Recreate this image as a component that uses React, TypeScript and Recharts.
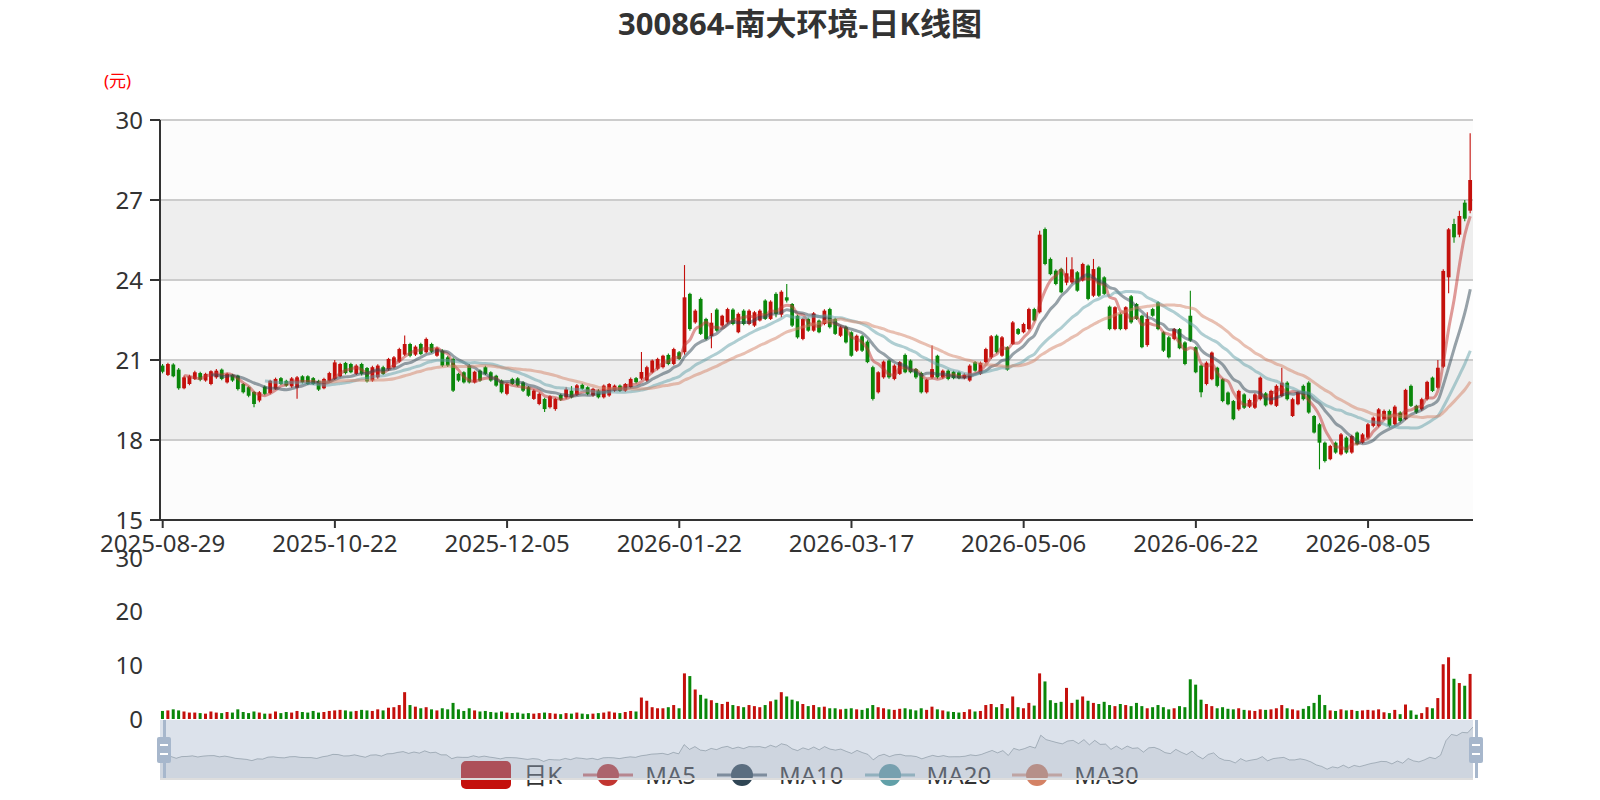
import {
  ComposedChart,
  BarChart,
  AreaChart,
  Bar,
  Line,
  Area,
  Cell,
  XAxis,
  YAxis,
  CartesianGrid,
} from 'recharts'

const FONT = '"Noto Sans", "Noto Sans CJK SC", sans-serif'
const UP = '#c4100c'
const DOWN = '#0a870a'

// tick labels sit on every 32nd trading day
const TICK_INDEX = [0, 32, 64, 96, 128, 160, 192, 224]
const DATE_TICKS = [
  '2025-08-29',
  '2025-10-22',
  '2025-12-05',
  '2026-01-22',
  '2026-03-17',
  '2026-05-06',
  '2026-06-22',
  '2026-08-05',
]

const PRICE_TICKS = [15, 18, 21, 24, 27, 30]
const VOLUME_TICKS = [0, 10, 20, 30]

// daily K data (yuan)
const OPEN = [
  20.79, 20.44, 20.83, 20.64, 19.94, 20.10, 20.29, 20.51, 20.23, 20.10,
  20.35, 20.64, 20.16, 20.44, 20.41, 20.10, 19.98, 19.80, 19.48, 20.00,
  19.76, 19.92, 20.32, 20.22, 20.01, 19.96, 20.39, 20.39, 20.32, 20.22,
  19.94, 20.22, 20.29, 20.39, 20.89, 20.85, 20.48, 20.85, 20.70, 20.23,
  20.35, 20.73, 20.66, 20.73, 20.94, 21.20, 21.60, 21.20, 21.60, 21.29,
  21.60, 21.16, 21.35, 21.10, 21.04, 20.48, 20.54, 20.79, 20.16, 20.60,
  20.73, 20.54, 20.41, 20.23, 19.73, 20.29, 20.31, 20.16, 19.98, 19.54,
  19.35, 19.54, 19.23, 19.16, 19.69, 19.60, 19.85, 19.70, 20.07, 19.98,
  19.67, 19.85, 19.60, 19.67, 19.85, 20.04, 19.85, 19.98, 20.32, 20.30,
  20.23, 20.54, 20.67, 20.73, 21.19, 20.85, 21.29, 21.29, 23.48, 22.41,
  23.29, 22.54, 21.90, 22.89, 22.29, 22.41, 22.89, 22.04, 22.85, 22.35,
  22.29, 22.48, 23.23, 22.54, 23.48, 22.70, 23.35, 23.10, 22.66, 21.79,
  22.54, 22.10, 22.48, 22.35, 22.91, 22.54, 21.91, 22.23, 22.04, 21.35,
  21.89, 21.69, 20.73, 19.79, 20.35, 20.98, 20.29, 20.48, 21.19, 20.98,
  20.66, 20.51, 19.79, 20.35, 21.16, 20.35, 20.60, 20.56, 20.54, 20.32,
  20.23, 20.92, 20.48, 20.92, 21.10, 21.91, 21.16, 21.48, 21.60, 22.16,
  22.04, 22.16, 22.91, 22.79, 25.91, 24.79, 24.35, 24.41, 23.90, 23.91,
  24.29, 23.98, 24.54, 23.41, 24.47, 24.10, 23.00, 22.16, 22.73, 22.16,
  23.39, 23.10, 22.66, 21.56, 22.91, 23.16, 22.04, 21.85, 21.79, 22.16,
  21.66, 22.66, 21.48, 20.79, 20.10, 20.28, 20.71, 20.28, 19.78, 19.46,
  19.15, 19.71, 19.25, 19.21, 19.53, 19.75, 19.34, 19.28, 19.65, 20.15,
  18.90, 19.34, 20.03, 20.15, 18.90, 18.59, 17.90, 17.28, 17.90, 17.46,
  18.09, 17.53, 18.28, 17.90, 18.09, 18.53, 18.53, 18.78, 19.09, 18.59,
  19.03, 18.78, 20.03, 19.28, 19.15, 19.53, 20.34, 19.96, 20.75, 24.10,
  26.10, 25.70, 26.90, 26.60,
]

const CLOSE = [
  20.56, 20.85, 20.39, 19.94, 20.35, 20.39, 20.54, 20.26, 20.48, 20.58,
  20.60, 20.29, 20.48, 20.23, 19.91, 19.79, 19.66, 19.35, 19.79, 19.73,
  20.22, 20.29, 20.10, 20.04, 20.31, 20.35, 20.16, 20.10, 20.10, 19.89,
  20.29, 20.51, 20.91, 20.85, 20.51, 20.54, 20.79, 20.48, 20.20, 20.73,
  20.79, 20.48, 21.04, 21.10, 21.41, 21.60, 21.16, 21.50, 21.22, 21.79,
  21.31, 21.44, 20.79, 20.79, 19.85, 20.23, 20.16, 20.16, 20.56, 20.23,
  20.48, 20.23, 20.04, 19.79, 20.10, 20.10, 20.04, 19.85, 19.66, 19.85,
  19.73, 19.16, 19.64, 19.54, 19.51, 19.90, 19.60, 20.05, 19.92, 19.73,
  19.92, 19.60, 20.04, 20.10, 20.04, 19.85, 20.10, 20.29, 20.17, 20.55,
  20.73, 20.98, 21.04, 21.16, 20.85, 21.41, 21.04, 23.35, 22.16, 22.85,
  21.98, 21.79, 22.40, 22.10, 22.66, 22.91, 22.35, 22.73, 22.35, 22.85,
  22.79, 22.85, 22.54, 23.19, 22.73, 23.56, 23.23, 22.29, 21.85, 22.54,
  22.10, 22.75, 22.04, 22.85, 22.23, 21.98, 22.23, 21.66, 21.16, 21.91,
  21.35, 20.92, 19.54, 20.54, 20.94, 20.35, 20.79, 20.92, 20.54, 20.54,
  20.35, 19.79, 20.26, 20.66, 20.35, 20.60, 20.29, 20.32, 20.32, 20.45,
  20.79, 20.60, 20.89, 21.41, 21.89, 21.29, 21.85, 20.64, 22.41, 21.98,
  22.35, 22.91, 22.48, 25.70, 24.60, 24.22, 23.85, 23.54, 24.25, 24.40,
  23.60, 24.60, 23.29, 24.41, 23.41, 23.48, 22.16, 22.98, 22.16, 22.98,
  22.41, 22.54, 21.48, 22.54, 22.66, 22.16, 21.35, 21.10, 22.16, 21.44,
  20.85, 21.73, 20.54, 19.79, 20.90, 21.28, 20.03, 19.46, 19.34, 18.78,
  19.84, 19.21, 19.50, 19.71, 20.34, 19.30, 19.84, 20.03, 20.15, 19.53,
  19.53, 19.80, 19.53, 19.03, 18.28, 17.90, 17.21, 17.78, 17.53, 18.21,
  17.53, 18.15, 17.84, 18.21, 18.59, 18.84, 19.15, 19.09, 18.53, 19.25,
  18.71, 19.88, 19.28, 19.03, 19.53, 20.18, 19.84, 20.71, 24.34, 25.90,
  25.60, 26.40, 26.30, 27.75,
]

const HIGH = [
  20.85, 20.90, 20.88, 20.70, 20.42, 20.45, 20.60, 20.56, 20.52, 20.62,
  20.66, 20.68, 20.52, 20.48, 20.45, 20.14, 20.02, 19.84, 19.84, 20.04,
  20.26, 20.34, 20.36, 20.26, 20.36, 20.40, 20.43, 20.43, 20.36, 20.26,
  20.33, 20.56, 21.00, 20.90, 20.93, 20.90, 20.84, 20.90, 20.74, 20.78,
  20.84, 20.78, 21.08, 21.15, 21.46, 21.92, 21.65, 21.55, 21.65, 21.84,
  21.65, 21.50, 21.40, 21.15, 21.08, 20.52, 20.58, 20.84, 20.60, 20.64,
  20.78, 20.58, 20.45, 20.27, 20.14, 20.33, 20.35, 20.20, 20.02, 19.90,
  19.78, 19.58, 19.68, 19.58, 19.73, 19.98, 20.02, 20.10, 20.12, 20.02,
  19.96, 19.90, 20.08, 20.14, 20.08, 20.08, 20.14, 20.34, 20.36, 21.30,
  20.78, 21.02, 21.08, 21.20, 21.24, 21.46, 21.34, 24.56, 23.52, 22.90,
  23.34, 22.58, 22.76, 22.94, 22.70, 22.96, 22.94, 22.78, 22.90, 22.90,
  22.84, 22.90, 23.28, 23.24, 23.54, 23.62, 23.85, 23.14, 22.70, 22.58,
  22.58, 22.80, 22.52, 22.90, 22.96, 22.58, 22.28, 22.28, 22.08, 21.96,
  21.94, 21.74, 20.78, 20.58, 20.98, 21.02, 20.84, 20.96, 21.24, 21.02,
  20.70, 20.56, 20.30, 21.54, 21.20, 20.64, 20.64, 20.60, 20.58, 20.50,
  20.84, 20.96, 20.94, 21.46, 21.94, 21.96, 21.90, 21.52, 22.46, 22.20,
  22.40, 22.96, 22.96, 25.85, 25.97, 24.84, 24.40, 24.46, 24.85, 24.85,
  24.34, 24.65, 24.58, 24.79, 24.52, 24.14, 23.04, 23.02, 22.78, 23.02,
  23.44, 23.14, 22.70, 22.79, 22.96, 23.20, 22.08, 21.90, 22.20, 22.20,
  21.70, 23.60, 21.52, 20.83, 20.95, 21.32, 20.75, 20.32, 19.82, 19.50,
  19.88, 19.75, 19.55, 19.75, 20.38, 19.80, 19.88, 20.08, 20.71, 20.20,
  19.58, 19.84, 20.08, 20.20, 18.94, 18.64, 17.94, 17.82, 17.94, 18.26,
  18.14, 18.20, 18.32, 18.26, 18.64, 18.88, 19.20, 19.14, 19.14, 19.30,
  19.08, 19.92, 20.08, 19.32, 19.58, 20.22, 20.38, 21.00, 24.40, 25.95,
  26.30, 26.60, 27.00, 29.50,
]

const LOW = [
  20.50, 20.40, 20.35, 19.88, 19.90, 20.05, 20.25, 20.20, 20.18, 20.05,
  20.30, 20.24, 20.12, 20.18, 19.86, 19.74, 19.60, 19.23, 19.42, 19.68,
  19.72, 19.88, 20.06, 20.00, 19.96, 19.55, 20.12, 20.06, 20.06, 19.84,
  19.90, 20.18, 20.25, 20.35, 20.46, 20.50, 20.44, 20.42, 20.16, 20.18,
  20.30, 20.44, 20.60, 20.68, 20.90, 21.15, 21.10, 21.15, 21.18, 21.25,
  21.26, 21.12, 20.74, 20.74, 19.80, 20.18, 20.12, 20.12, 20.12, 20.18,
  20.44, 20.18, 20.00, 19.74, 19.68, 20.06, 20.00, 19.80, 19.62, 19.50,
  19.30, 19.05, 19.18, 19.10, 19.46, 19.55, 19.56, 19.65, 19.88, 19.68,
  19.62, 19.56, 19.56, 19.62, 19.80, 19.80, 19.80, 19.94, 20.12, 20.25,
  20.18, 20.50, 20.62, 20.68, 20.80, 20.80, 21.00, 21.20, 22.10, 22.36,
  21.94, 21.74, 21.44, 22.06, 22.24, 22.36, 22.30, 22.00, 22.30, 22.30,
  22.24, 22.44, 22.50, 22.50, 22.60, 22.60, 23.16, 22.24, 21.80, 21.74,
  22.06, 22.06, 22.00, 22.30, 22.18, 21.94, 21.86, 21.62, 21.12, 21.30,
  21.30, 20.88, 19.48, 19.74, 20.30, 20.30, 20.24, 20.44, 20.50, 20.50,
  20.30, 19.74, 19.74, 20.30, 20.30, 20.30, 20.24, 20.28, 20.28, 20.28,
  20.18, 20.56, 20.44, 20.88, 21.04, 21.24, 21.12, 20.60, 21.56, 21.94,
  22.00, 22.12, 22.44, 22.74, 24.55, 24.18, 23.80, 23.50, 23.80, 23.86,
  23.56, 23.94, 23.24, 23.36, 23.36, 23.44, 22.12, 22.12, 22.12, 22.12,
  22.36, 22.50, 21.44, 21.50, 22.62, 22.12, 21.30, 21.06, 21.74, 21.40,
  20.80, 21.68, 20.50, 19.60, 20.05, 20.24, 19.98, 19.42, 19.30, 18.74,
  19.10, 19.16, 19.20, 19.16, 19.48, 19.26, 19.30, 19.24, 19.60, 19.48,
  18.86, 19.30, 19.48, 18.98, 18.24, 16.90, 17.16, 17.24, 17.48, 17.42,
  17.48, 17.48, 17.80, 17.86, 18.04, 18.48, 18.48, 18.74, 18.48, 18.54,
  18.66, 18.74, 19.24, 18.98, 19.10, 19.48, 19.80, 19.92, 20.70, 23.50,
  25.40, 25.60, 26.20, 26.50,
]

const VOLUME = [
  1.5, 1.6, 1.8, 1.6, 1.4, 1.2, 1.2, 1.1, 1.0, 1.4,
  1.2, 1.1, 1.3, 1.2, 1.8, 1.3, 1.1, 1.4, 1.2, 1.0,
  1.0, 1.4, 1.1, 1.3, 1.2, 1.5, 1.3, 1.2, 1.5, 1.2,
  1.3, 1.5, 1.6, 1.7, 1.6, 1.4, 1.5, 1.7, 1.6, 1.5,
  1.8, 1.6, 2.1, 2.2, 2.6, 5.0, 2.6, 2.3, 2.0, 2.2,
  1.8, 1.6, 2.0, 1.8, 3.0, 1.8, 1.5, 2.0, 1.6, 1.4,
  1.5, 1.3, 1.2, 1.4, 1.2, 1.1, 1.2, 1.0, 1.1, 1.0,
  1.1, 1.2, 1.1, 1.0, 0.9, 1.1, 1.0, 1.2, 1.0, 0.9,
  1.0, 1.1, 1.2, 1.4, 1.2, 1.1, 1.3, 1.5, 1.4, 4.0,
  3.4, 2.2, 2.0, 2.0, 2.2, 2.6, 2.0, 8.5, 8.0, 5.5,
  4.5, 3.8, 3.5, 3.0, 2.8, 3.2, 2.6, 2.4, 2.2, 2.6,
  2.4, 2.2, 2.6, 3.3, 3.6, 5.0, 4.2, 3.6, 3.3, 2.8,
  2.4, 2.6, 2.2, 2.3, 2.0, 2.0, 1.8, 1.9, 2.0, 1.8,
  1.7, 2.0, 2.6, 2.2, 2.0, 1.8, 1.7, 1.9, 2.0, 1.8,
  1.6, 2.0, 1.7, 2.3, 1.8, 1.6, 1.4, 1.3, 1.2, 1.3,
  1.8, 1.4, 1.5, 2.6, 2.8, 2.2, 2.8, 2.0, 4.2, 2.2,
  2.0, 3.0, 2.5, 8.5, 7.0, 3.5, 3.0, 3.2, 5.8, 3.0,
  3.6, 4.2, 3.4, 3.0, 2.8, 3.2, 2.6, 2.4, 2.8, 2.6,
  2.4, 3.0, 2.4, 2.0, 2.2, 2.6, 2.2, 1.8, 2.0, 2.4,
  2.2, 7.4, 6.4, 3.6, 2.8, 2.4, 2.0, 2.2, 1.9, 1.8,
  2.0, 1.7, 1.6, 1.5, 1.8, 1.7, 1.8, 2.0, 2.6, 2.0,
  1.8, 1.6, 1.9, 2.4, 3.0, 4.5, 2.6, 1.6, 1.5, 1.8,
  1.6, 1.7, 1.5, 1.6, 1.7, 1.6, 1.8, 1.25, 1.1, 1.7,
  0.9, 2.7, 1.6, 0.8, 1.1, 2.2, 2.0, 3.9, 10.2, 11.5,
  7.5, 6.7, 6.2, 8.4,
]

const MA_SERIES = [
  { key: 'ma5', name: 'MA5', days: 5, color: '#c23531' },
  { key: 'ma10', name: 'MA10', days: 10, color: '#2f4554' },
  { key: 'ma20', name: 'MA20', days: 20, color: '#61a0a8' },
  { key: 'ma30', name: 'MA30', days: 30, color: '#d48265' },
]

function movingAverage(days: number) {
  return CLOSE.map((_, i) => {
    if (i < days - 1) return null
    let sum = 0
    for (let k = i - days + 1; k <= i; k++) sum += CLOSE[k]
    return +(sum / days).toFixed(3)
  })
}

const averages = MA_SERIES.map((s) => movingAverage(s.days))

const rows = CLOSE.map((close, i) => {
  const row: Record<string, any> = {
    i,
    open: OPEN[i],
    close,
    high: HIGH[i],
    low: LOW[i],
    volume: VOLUME[i],
  }
  MA_SERIES.forEach((s, k) => {
    row[s.key] = averages[k][i]
  })
  return row
})

const BODY_W = 3.8

function Candle(props: any) {
  const { x, y, width, height, payload } = props
  if (x == null || y == null) return null
  const { open, close, high, low } = payload
  const top = Math.min(y, y + height)
  const h = Math.abs(height)
  const span = high - low || 1
  const py = (v: number) => top + ((high - v) / span) * h
  const cx = x + width / 2
  const color = close >= open ? UP : DOWN
  const bodyTop = py(Math.max(open, close))
  const bodyH = Math.max(1, py(Math.min(open, close)) - bodyTop)
  return (
    <g>
      <line x1={cx} x2={cx} y1={top} y2={top + h} stroke={color} strokeWidth={1.1} />
      <rect x={cx - BODY_W / 2} y={bodyTop} width={BODY_W} height={bodyH} fill={color} />
    </g>
  )
}

const tickStyle = { fill: '#333', fontSize: 24, fontFamily: FONT }

function LegendIcon({ color, candle }: { color: string; candle?: boolean }) {
  return (
    <svg width={50} height={28} style={{ display: 'block' }}>
      {candle ? (
        <rect x={0} y={0} width={50} height={28} rx={5} fill={color} />
      ) : (
        <>
          <line x1={0} x2={50} y1={14} y2={14} stroke={color} strokeWidth={3} strokeOpacity={0.7} />
          <circle cx={25} cy={14} r={11} fill={color} />
        </>
      )}
    </svg>
  )
}

function Handle({ left }: { left: number }) {
  return (
    <>
      <div
        style={{
          position: 'absolute',
          left: left - 1.5,
          top: 720,
          width: 3,
          height: 58,
          background: '#a7b7cc',
        }}
      />
      <div
        style={{
          position: 'absolute',
          left: left - 7,
          top: 737,
          width: 14,
          height: 26,
          borderRadius: 2,
          background: '#a7b7cc',
        }}
      >
        <div style={{ position: 'absolute', left: 3, top: 7, width: 8, height: 2, background: '#fff' }} />
        <div style={{ position: 'absolute', left: 3, top: 16, width: 8, height: 2, background: '#fff' }} />
      </div>
    </>
  )
}

export default function App() {
  const legendItems = [
    { name: '日K', color: UP, candle: true },
    ...MA_SERIES.map((s) => ({ name: s.name, color: s.color, candle: false })),
  ]
  return (
    <div
      style={{
        position: 'absolute',
        left: 0,
        top: 0,
        width: 1600,
        height: 800,
        overflow: 'hidden',
        background: '#fff',
        fontFamily: FONT,
      }}
    >
      <div
        style={{
          position: 'absolute',
          top: 0,
          left: 0,
          width: 1600,
          textAlign: 'center',
          lineHeight: '46px',
          fontSize: 31,
          fontWeight: 'bold',
          color: '#333',
        }}
      >
        300864-南大环境-日K线图
      </div>
      <div
        style={{
          position: 'absolute',
          left: 104,
          top: 70,
          lineHeight: '22px',
          fontSize: 17,
          color: '#ff0000',
        }}
      >
        (元)
      </div>

      <div style={{ position: 'absolute', left: 0, top: 0 }}>
        <ComposedChart
          width={1600}
          height={600}
          data={rows}
          margin={{ top: 120, right: 127, bottom: 40, left: 100 }}
        >
          <CartesianGrid
            vertical={false}
            stroke="#cccccc"
            strokeWidth={2}
            horizontalFill={['#fcfcfc', '#eeeeee']}
          />
          <XAxis
            dataKey="i"
            type="category"
            height={40}
            ticks={TICK_INDEX}
            interval={0}
            tickFormatter={(v) => DATE_TICKS[TICK_INDEX.indexOf(Number(v))] ?? ''}
            tick={tickStyle}
            axisLine={{ stroke: '#333', strokeWidth: 2 }}
            tickLine={{ stroke: '#333', strokeWidth: 2 }}
            tickSize={8}
            tickMargin={7}
          />
          <YAxis
            width={60}
            domain={[15, 30]}
            ticks={PRICE_TICKS}
            interval={0}
            tick={tickStyle}
            axisLine={{ stroke: '#333', strokeWidth: 2 }}
            tickLine={{ stroke: '#333', strokeWidth: 2 }}
            tickSize={10}
            tickMargin={7}
          />
          <Bar
            dataKey={(d: any) => [d.low, d.high]}
            shape={(p: any) => <Candle {...p} />}
            isAnimationActive={false}
          />
          {MA_SERIES.map((s) => (
            <Line
              key={s.key}
              dataKey={s.key}
              type="monotone"
              stroke={s.color}
              strokeOpacity={0.5}
              strokeWidth={3}
              dot={false}
              activeDot={false}
              isAnimationActive={false}
            />
          ))}
        </ComposedChart>
      </div>

      <div style={{ position: 'absolute', left: 0, top: 0 }}>
        <BarChart
          width={1600}
          height={800}
          data={rows}
          margin={{ top: 558, right: 127, bottom: 81, left: 100 }}
          barCategoryGap="18%"
        >
          <XAxis dataKey="i" hide />
          <YAxis
            width={60}
            domain={[0, 30]}
            ticks={VOLUME_TICKS}
            interval={0}
            tick={tickStyle}
            axisLine={false}
            tickLine={false}
            tickSize={10}
            tickMargin={7}
          />
          <Bar dataKey="volume" isAnimationActive={false}>
            {rows.map((r) => (
              <Cell key={r.i} fill={r.close >= r.open ? UP : DOWN} />
            ))}
          </Bar>
        </BarChart>
      </div>

      <div
        style={{
          position: 'absolute',
          left: 0,
          top: 761,
          width: 1600,
          height: 28,
          display: 'flex',
          justifyContent: 'center',
          alignItems: 'center',
          gap: 21,
        }}
      >
        {legendItems.map((it) => (
          <div key={it.name} style={{ display: 'flex', alignItems: 'center', gap: 12 }}>
            <LegendIcon color={it.color} candle={it.candle} />
            <span style={{ fontSize: 24, color: '#333', lineHeight: '28px' }}>{it.name}</span>
          </div>
        ))}
      </div>

      <div
        style={{
          position: 'absolute',
          left: 160,
          top: 720,
          width: 1313,
          height: 58,
          background: 'rgba(167,183,204,0.4)',
          borderBottom: '2px solid #dddddd',
        }}
      >
        <AreaChart width={1313} height={58} data={rows} margin={{ top: 0, right: 0, bottom: 0, left: 0 }}>
          <XAxis dataKey="i" hide />
          <YAxis hide domain={[15, 29.5]} />
          <Area
            dataKey="close"
            type="linear"
            stroke="rgba(47,69,84,0.3)"
            strokeWidth={1}
            fill="rgba(47,69,84,0.08)"
            fillOpacity={1}
            dot={false}
            activeDot={false}
            isAnimationActive={false}
          />
        </AreaChart>
      </div>
      <Handle left={164} />
      <Handle left={1476} />
    </div>
  )
}
